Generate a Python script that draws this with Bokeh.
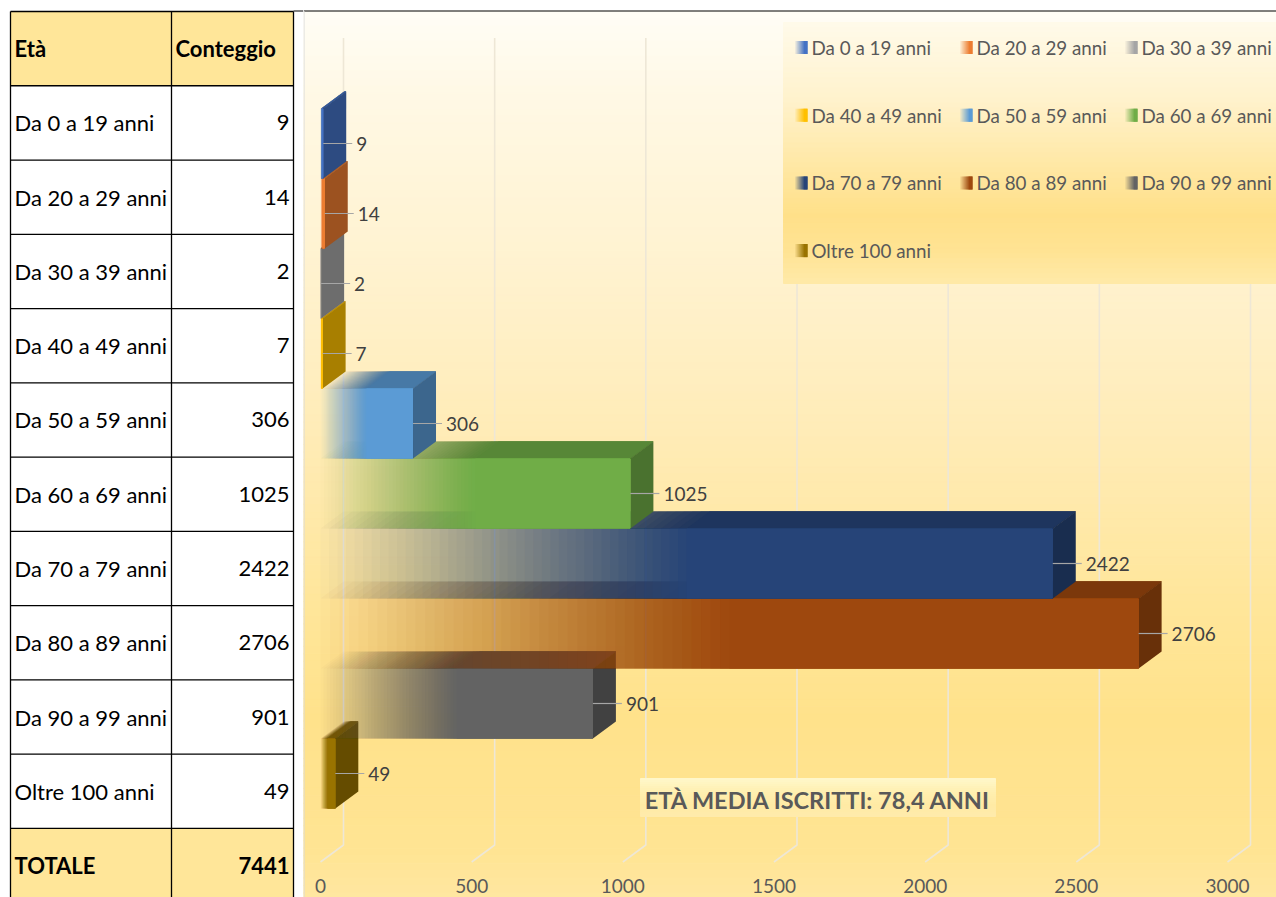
import numpy as np
from bokeh.plotting import figure
from bokeh.layouts import row
from bokeh.models import Range1d
from bokeh.core.properties import value
from bokeh.embed import file_html
from bokeh.resources import INLINE

# ---------------- data ----------------
categories = ["Da 0 a 19 anni", "Da 20 a 29 anni", "Da 30 a 39 anni", "Da 40 a 49 anni",
              "Da 50 a 59 anni", "Da 60 a 69 anni", "Da 70 a 79 anni", "Da 80 a 89 anni",
              "Da 90 a 99 anni", "Oltre 100 anni"]
counts = [9, 14, 2, 7, 306, 1025, 2422, 2706, 901, 49]
colors = ["#4472C4", "#ED7D31", "#A5A5A5", "#FFC000", "#5B9BD5", "#70AD47",
          "#264478", "#9E480E", "#636363", "#997300"]
header_age = "Età"
header_count = "Conteggio"
total_label = "TOTALE"
x_ticks = [0, 500, 1000, 1500, 2000, 2500, 3000]
mean_age_label = "ETÀ MEDIA ISCRITTI: 78,4 ANNI"

FONT = value("Lato")
TOTAL_W = 1276
TOTAL_H = 897
PAGE_OFF = 0


def hex_rgb(h):
    h = h.lstrip("#")
    return tuple(int(h[k:k + 2], 16) for k in (0, 2, 4))


def rgb_hex(c):
    return "#%02x%02x%02x" % tuple(max(0, min(255, int(round(v)))) for v in c)


def shade(h, f):
    return rgb_hex([v * f for v in hex_rgb(h)])


def gradient(stops, ys):
    sy = [s[0] for s in stops]
    cols = [hex_rgb(s[1]) for s in stops]
    out = []
    for y in ys:
        rgb = [np.interp(y, sy, [c[k] for c in cols]) for k in range(3)]
        out.append(rgb_hex(rgb))
    return out


# ---------------- table figure ----------------
TBL_W = 303
t = figure(width=TBL_W, height=TOTAL_H,
           x_range=Range1d(PAGE_OFF, PAGE_OFF + TBL_W),
           y_range=Range1d(PAGE_OFF + TOTAL_H, PAGE_OFF),
           x_axis_type=None, y_axis_type=None, toolbar_location=None,
           output_backend="svg", min_border=0)
t.outline_line_color = None
t.background_fill_color = "white"
t.border_fill_color = "white"

ROW_TOP = 11
ROW_H = 74.27
COL_X = [10, 171, 293]
labels_col = [header_age] + categories + [total_label]
values_col = [str(c) for c in counts] + [str(sum(counts))]
n_rows = len(labels_col)
tops = [ROW_TOP + k * ROW_H for k in range(n_rows)]
bottoms = [v + ROW_H for v in tops]
centers = [v + ROW_H / 2 for v in tops]
fills = ["#FFE699"] + ["#FFFFFF"] * len(categories) + ["#FFE699"]
t.quad(left=COL_X[0], right=COL_X[2], top=tops, bottom=bottoms,
       fill_color=fills, line_color=None)
t.segment(x0=COL_X[0], x1=COL_X[2], y0=tops + [bottoms[-1]], y1=tops + [bottoms[-1]],
          line_color="black", line_width=1.3)
t.segment(x0=COL_X, x1=COL_X, y0=ROW_TOP, y1=bottoms[-1], line_color="black", line_width=1.3)
t.segment(x0=COL_X[2], x1=PAGE_OFF + TBL_W, y0=10.5, y1=10.5, line_color="black", line_width=1)

styles = ["bold"] + ["normal"] * len(categories) + ["bold"]
t.text(x=14, y=centers, text=labels_col, text_font=FONT, text_font_size="22px",
       text_font_style=styles, text_color="black", text_baseline="middle", text_align="left")
t.text(x=175, y=centers[0], text=[header_count], text_font=FONT, text_font_size="22px",
       text_font_style="bold", text_color="black", text_baseline="middle", text_align="left")
t.text(x=289, y=centers[1:], text=values_col, text_font=FONT, text_font_size="22px",
       text_font_style=styles[1:], text_color="black", text_baseline="middle", text_align="right")

# ---------------- chart figure ----------------
CH_X0 = PAGE_OFF + TBL_W          # reference px of the chart's left edge
CH_W = TOTAL_W - TBL_W
PXU = 907 / 3000                   # px per unit
ZERO_PX = 320
ROW_PX = 70
ROW0_PX = 143


def xd(px):
    return (px - ZERO_PX) / PXU


def yd(py):
    return (py - ROW0_PX) / ROW_PX


p = figure(width=CH_W, height=TOTAL_H,
           x_range=Range1d(xd(CH_X0), xd(CH_X0 + CH_W)),
           y_range=Range1d(yd(PAGE_OFF + TOTAL_H), yd(PAGE_OFF)),
           x_axis_type=None, y_axis_type=None, toolbar_location=None,
           output_backend="svg", min_border=0)
p.outline_line_color = None
p.background_fill_color = "white"
p.border_fill_color = "white"

XL, XR = xd(CH_X0), xd(CH_X0 + CH_W + 10)

# background gradient
bg_stops = [(10, "#FFFDF6"), (100, "#FFF8E4"), (300, "#FFF1CB"), (450, "#FFEBB4"),
            (600, "#FFE69B"), (720, "#FFE28B"), (850, "#FFE493"), (900, "#FFE7A1")]
ys = np.linspace(10.5, 900, 120)
bcols = gradient(bg_stops, (ys[:-1] + ys[1:]) / 2)
p.quad(left=XL, right=XR, top=[yd(v) for v in ys[:-1]], bottom=[yd(v) for v in ys[1:]],
       fill_color=bcols, line_color=bcols, line_width=1)

# borders
p.segment(x0=XL, x1=XR, y0=yd(10.5), y1=yd(10.5), line_color="black", line_width=1)
p.segment(x0=xd(CH_X0 + 0.5), x1=xd(CH_X0 + 0.5), y0=yd(10.5), y1=yd(905),
          line_color="#D9D9D9", line_width=1)

# 3D geometry
DX = 23 / PXU
DY = -17 / ROW_PX
n = len(counts)
GAP = 53.5 / ROW_PX
floor_front = n - 0.5 + GAP
ceil_front = -0.5 - GAP

# gridlines on back wall + floor slant
p.multi_line(xs=[[v + DX, v + DX, v] for v in x_ticks],
             ys=[[ceil_front + DY, floor_front + DY, floor_front] for _ in x_ticks],
             line_color="#EEE7D6", line_width=1.6)

# legend background
lg_stops = [(22, "#FFFAEA"), (100, "#FFF2CC"), (170, "#FFE7A2"), (215, "#FFE089"),
            (250, "#FFE393"), (283, "#FFE9A8")]
lys = np.linspace(22, 283, 53)
lcols = gradient(lg_stops, (lys[:-1] + lys[1:]) / 2)
p.quad(left=xd(783), right=XR, top=[yd(v) for v in lys[:-1]], bottom=[yd(v) for v in lys[1:]],
       fill_color=lcols, line_color=lcols, line_width=1)

# bars (drawn from the bottom one up so nearer faces overlap correctly)
NL = 44
for i in reversed(range(n)):
    v = counts[i]
    c = colors[i]
    top_c = shade(c, 0.78)
    side_c = shade(c, 0.66)
    fe = 0.5 * v
    starts = [fe * k / (NL - 1) for k in range(NL)]
    alphas = [1.0 / (NL - k) for k in range(NL)]
    y0 = i - 0.5
    y1 = i + 0.5
    # top face
    p.patches(xs=[[a, v, v + DX, a + DX] for a in starts],
              ys=[[y0, y0, y0 + DY, y0 + DY] for _ in starts],
              fill_color=top_c, fill_alpha=alphas, line_color=None)
    # side face
    p.patch(x=[v, v + DX, v + DX, v], y=[y0, y0 + DY, y1 + DY, y1],
            fill_color=side_c, line_color=None)
    # front face
    p.quad(left=starts, right=v, top=y0, bottom=y1,
           fill_color=c, fill_alpha=alphas, line_color=None)

# data labels with leader lines
idx = list(range(n))
p.segment(x0=counts, x1=[v + DX + 6 / PXU for v in counts], y0=idx, y1=idx,
          line_color="#A6A6A6", line_width=1.2)
p.text(x=[v + DX + 10 / PXU for v in counts], y=idx, text=[str(v) for v in counts],
       text_font=FONT, text_font_size="19px", text_color="#404040",
       text_baseline="middle", text_align="left")

# axis tick labels (front edge of the floor)
p.text(x=x_ticks, y=yd(885), text=[str(v) for v in x_ticks], text_font=FONT,
       text_font_size="19px", text_color="#595959", text_align="center", text_baseline="middle")

# legend entries
LEG_X0, LEG_COL_W, LEG_Y0, LEG_ROW_H = 795, 165, 47, 67.7
ML = 5
for j, cat in enumerate(categories):
    r, col = divmod(j, 3)
    mx = LEG_X0 + LEG_COL_W * col
    my = LEG_Y0 + LEG_ROW_H * r
    p.quad(left=[xd(mx + 2 * k) for k in range(ML)], right=xd(mx + 12),
           top=yd(my - 6.5), bottom=yd(my + 6.5), fill_color=colors[j],
           fill_alpha=[1.0 / (ML - k) for k in range(ML)], line_color=None)
lx = [xd(LEG_X0 + LEG_COL_W * (j % 3) + 16) for j in range(n)]
ly = [yd(LEG_Y0 + LEG_ROW_H * (j // 3)) for j in range(n)]
p.text(x=lx, y=ly, text=categories, text_font=FONT, text_font_size="18.8px",
       text_color="#595959", text_baseline="middle", text_align="left")

# mean-age box
mb_stops = [(778, "#FFF8CC"), (792, "#FFEFB0"), (805, "#FFEAA4"), (816, "#FFEBAC")]
mys = np.linspace(778, 816, 20)
mcols = gradient(mb_stops, (mys[:-1] + mys[1:]) / 2)
p.quad(left=xd(640), right=xd(995), top=[yd(v) for v in mys[:-1]],
       bottom=[yd(v) for v in mys[1:]], fill_color=mcols, line_color=mcols, line_width=1)
p.text(x=xd(817.5), y=yd(799), text=[mean_age_label], text_font=FONT, text_font_size="23.5px",
       text_font_style="bold", text_color="#595959", text_align="center", text_baseline="middle")

layout = row(t, p)
open("out.html", "w").write(file_html(layout, INLINE))
